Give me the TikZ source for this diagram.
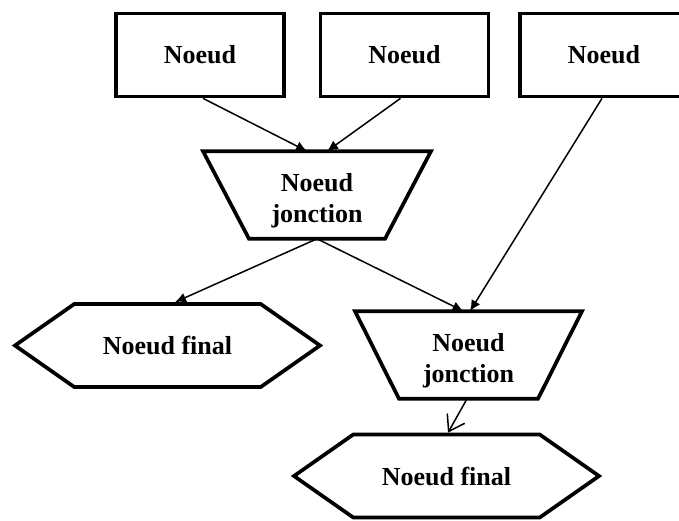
\documentclass[tikz,border=0pt]{standalone}
\usepackage{fontspec}
\setmainfont{Liberation Serif}
\usetikzlibrary{shapes.symbols,arrows.meta}
\tikzset{
  txt/.style={font=\fontsize{26}{31}\selectfont\bfseries, align=center, inner sep=0pt},
  border/.style={line width=3.7pt, line join=miter},
  boxnode/.style={txt, draw, border, rectangle, minimum width=168pt, minimum height=83pt},
  jbox/.style={rectangle, inner sep=0pt, outer xsep=0pt, outer ysep=1.8pt, minimum width=228pt, minimum height=84pt},
  final/.style={txt, draw, border, signal, signal to=west and east,
     signal pointer angle=70, minimum width=305pt, minimum height=83pt},
  conn/.style={line width=1.5pt, -{Latex[length=11pt,width=10pt]}},
  openconn/.style={line width=1.5pt, -{Straight Barb[length=15pt,width=20pt]}}
}
\begin{document}
\begin{tikzpicture}[x=1pt,y=-1pt]
\useasboundingbox (0,0) rectangle (679,520);
\clip (0,0) rectangle (679,520);
\node[boxnode] (b1) at (200,55) {Noeud};
\node[boxnode] (b2) at (404.5,55) {Noeud};
\node[boxnode] (b3) at (604,55) {Noeud};
% junction nodes
\node[jbox] (t1) at (317,195) {};
\draw[border] (t1.north west) -- (t1.north east) -- ([xshift=-46pt]t1.south east)
   -- ([xshift=46pt]t1.south west) -- cycle;
\node[txt] (t1l) at ([yshift=-6pt]t1.center) {Noeud\\jonction};
\node[jbox, minimum width=227pt] (t2) at (468.5,355) {};
\draw[border] (t2.north west) -- (t2.north east) -- ([xshift=-44pt]t2.south east)
   -- ([xshift=44pt]t2.south west) -- cycle;
\node[txt] (t2l) at ([yshift=-6pt]t2.center) {Noeud\\jonction};
% final nodes
\node[final] (h1) at (167.5,345.5) {Noeud final};
\node[final] (h2) at (446.5,476) {Noeud final};
% connectors
\draw[conn] ([xshift=3pt]b1.south) -- ([xshift=-10pt]t1.north);
\draw[conn] ([xshift=-4pt]b2.south) -- ([xshift=10pt]t1.north);
\draw[conn] ([xshift=-2pt]b3.south) -- ([xshift=1.5pt]t2.north);
\draw[conn] (t1.south) -- ([xshift=7.5pt]h1.north);
\draw[conn] (t1.south) -- ([xshift=-5pt]t2.north);
\draw[openconn] ([xshift=-1.5pt]t2.south) -- ([xshift=1.5pt]h2.north);
\end{tikzpicture}
\end{document}
